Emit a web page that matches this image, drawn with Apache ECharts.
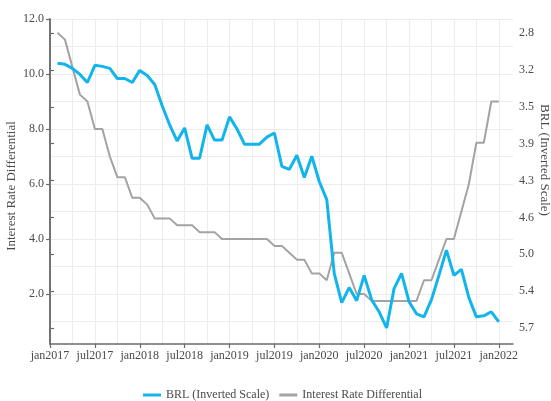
<!DOCTYPE html>
<html>
<head>
<meta charset="utf-8">
<script src="https://cdn.jsdelivr.net/npm/echarts@6/dist/echarts.min.js"></script>
<style>
  html, body { margin: 0; padding: 0; background: #fff; }
  #chart { width: 551px; height: 401px; }
</style>
</head>
<body>
<div id="chart"></div>
<script>
const months = [
  "2017-02", "2017-03", "2017-04", "2017-05", "2017-06", "2017-07", "2017-08", "2017-09", "2017-10", "2017-11", "2017-12",
  "2018-01", "2018-02", "2018-03", "2018-04", "2018-05", "2018-06", "2018-07", "2018-08", "2018-09", "2018-10", "2018-11", "2018-12",
  "2019-01", "2019-02", "2019-03", "2019-04", "2019-05", "2019-06", "2019-07", "2019-08", "2019-09", "2019-10", "2019-11", "2019-12",
  "2020-01", "2020-02", "2020-03", "2020-04", "2020-05", "2020-06", "2020-07", "2020-08", "2020-09", "2020-10", "2020-11", "2020-12",
  "2021-01", "2021-02", "2021-03", "2021-04", "2021-05", "2021-06", "2021-07", "2021-08", "2021-09", "2021-10", "2021-11", "2021-12",
  "2022-01"
];

// BRL per USD, right axis (inverted)
const brl = [
  3.10, 3.11, 3.15, 3.21, 3.29, 3.12, 3.13, 3.15, 3.25, 3.25,
  3.29, 3.17, 3.22, 3.31, 3.52, 3.71, 3.87, 3.74, 4.04, 4.04,
  3.71, 3.86, 3.86, 3.63, 3.75, 3.90, 3.90, 3.90, 3.83, 3.79,
  4.12, 4.15, 4.01, 4.23, 4.02, 4.27, 4.45, 5.18, 5.47, 5.32,
  5.45, 5.20, 5.44, 5.56, 5.72, 5.33, 5.18, 5.46, 5.58, 5.61,
  5.44, 5.20, 4.95, 5.20, 5.14, 5.42, 5.61, 5.60, 5.56, 5.66
];

// interest rate differential, left axis
const rateDiff = [
  11.5, 11.25, 10.25, 9.25, 9.0, 8.0, 8.0, 7.0, 6.25, 6.25,
  5.5, 5.5, 5.25, 4.75, 4.75, 4.75, 4.5, 4.5, 4.5, 4.25,
  4.25, 4.25, 4.0, 4.0, 4.0, 4.0, 4.0, 4.0, 4.0, 3.75,
  3.75, 3.5, 3.25, 3.25, 2.75, 2.75, 2.5, 3.5, 3.5, 2.75,
  2.0, 2.0, 1.75, 1.75, 1.75, 1.75, 1.75, 1.75, 1.75, 2.5,
  2.5, 3.25, 4.0, 4.0, 5.0, 6.0, 7.5, 7.5, 9.0, 9.0
];

const xTickLabels = ["jan2017", "jul2017", "jan2018", "jul2018", "jan2019", "jul2019",
  "jan2020", "jul2020", "jan2021", "jul2021", "jan2022"];
const xTickValues = [0, 6, 12, 18, 24, 30, 36, 42, 48, 54, 60];
const xGridValues = [0, 3, 6, 9, 12, 15, 18, 21, 24, 27, 30, 33, 36, 39, 42, 45, 48, 51, 54, 57, 60];
const leftTicks = [2, 4, 6, 8, 10, 12];
const leftGridValues = [1, 2, 3, 4, 5, 6, 7, 8, 9, 10, 11, 12];
const rightTicks = [2.8, 3.165, 3.53, 3.895, 4.26, 4.625, 4.99, 5.355, 5.72];

const FONT = "'Liberation Serif', 'DejaVu Serif', serif";
const AXIS_COLOR = "#6b6b6b";
const TEXT_COLOR = "#4a4a4a";
const GRID_COLOR = "#ececec";
const BLUE = "#12b4ec";
const GREY = "#a3a3a3";

// months since jan2017
const monthIndex = s => (Number(s.slice(0, 4)) - 2017) * 12 + Number(s.slice(5, 7)) - 1;

const chart = echarts.init(document.getElementById("chart"), null, { renderer: "canvas" });

// helper axes only draw the light grid
const gridOnly = values => ({
  axisLine: { show: false },
  axisTick: { show: false, length: 0, customValues: values, lineStyle: { color: "rgba(0,0,0,0)" } },
  axisLabel: { show: false },
  splitLine: { show: true, lineStyle: { color: GRID_COLOR, width: 1 } }
});

chart.setOption({
  animation: false,
  textStyle: { fontFamily: FONT },
  grid: { left: 50, right: 38, top: 19, bottom: 57, containLabel: false, outerBoundsMode: "none" },
  legend: {
    left: 138,
    top: 384,
    icon: "rect",
    itemWidth: 18,
    itemHeight: 3,
    itemGap: 10,
    textStyle: { fontFamily: FONT, fontSize: 12, color: TEXT_COLOR },
    data: ["BRL (Inverted Scale)", "Interest Rate Differential"]
  },
  xAxis: [
    {
      type: "value",
      min: 0,
      max: 61.9,
      axisLine: { show: true, lineStyle: { color: AXIS_COLOR, width: 1.5 } },
      axisTick: { show: true, length: 4, customValues: xTickValues, lineStyle: { color: AXIS_COLOR, width: 1.2 } },
      axisLabel: {
        customValues: xTickValues,
        margin: 6,
        fontFamily: FONT,
        fontSize: 12,
        color: TEXT_COLOR,
        formatter: v => xTickLabels[xTickValues.indexOf(Math.round(v))] || ""
      },
      splitLine: { show: false }
    },
    {
      type: "value",
      min: 0,
      max: 61.9,
      position: "bottom",
      ...gridOnly(xGridValues)
    }
  ],
  yAxis: [
    {
      type: "value",
      position: "left",
      min: 0.182,
      max: 12,
      name: "Interest Rate Differential",
      nameLocation: "middle",
      nameRotate: 90,
      nameGap: 32,
      nameMoveOverlap: false,
      nameTextStyle: { fontFamily: FONT, fontSize: 13, color: TEXT_COLOR, padding: [0, 9, 0, 0] },
      axisLine: { show: true, lineStyle: { color: AXIS_COLOR, width: 1.5 } },
      axisTick: { show: true, length: 4, customValues: leftTicks, lineStyle: { color: AXIS_COLOR, width: 1.2 } },
      axisLabel: {
        customValues: leftTicks,
        margin: 6,
        fontFamily: FONT,
        fontSize: 12,
        color: TEXT_COLOR,
        formatter: v => v.toFixed(1)
      },
      splitLine: { show: false }
    },
    {
      type: "value",
      position: "right",
      inverse: true,
      min: 2.661,
      max: 5.879,
      name: "BRL (Inverted Scale)",
      nameLocation: "middle",
      nameRotate: -90,
      nameGap: 25,
      nameMoveOverlap: false,
      nameTextStyle: { fontFamily: FONT, fontSize: 13, color: TEXT_COLOR, padding: [0, 43, 0, 0] },
      axisLine: { show: true, lineStyle: { color: AXIS_COLOR, width: 1.5 } },
      axisTick: { show: true, length: 4, customValues: rightTicks, lineStyle: { color: AXIS_COLOR, width: 1.2 } },
      axisLabel: {
        customValues: rightTicks,
        margin: 6,
        fontFamily: FONT,
        fontSize: 12,
        color: TEXT_COLOR,
        formatter: v => (Math.round(v * 10 + 1e-6) / 10).toFixed(1)
      },
      splitLine: { show: false }
    },
    {
      type: "value",
      position: "left",
      min: 0.182,
      max: 12,
      ...gridOnly(leftGridValues)
    }
  ],
  series: [
    {
      name: "BRL (Inverted Scale)",
      type: "line",
      xAxisIndex: 0,
      yAxisIndex: 1,
      showSymbol: false,
      symbol: "none",
      z: 4,
      itemStyle: { color: BLUE },
      lineStyle: { color: BLUE, width: 3 },
      data: months.map((m, i) => [monthIndex(m), brl[i]])
    },
    {
      name: "Interest Rate Differential",
      type: "line",
      xAxisIndex: 0,
      yAxisIndex: 0,
      showSymbol: false,
      symbol: "none",
      z: 3,
      itemStyle: { color: GREY },
      lineStyle: { color: GREY, width: 2 },
      data: months.map((m, i) => [monthIndex(m), rateDiff[i]])
    }
  ]
});
</script>
</body>
</html>
